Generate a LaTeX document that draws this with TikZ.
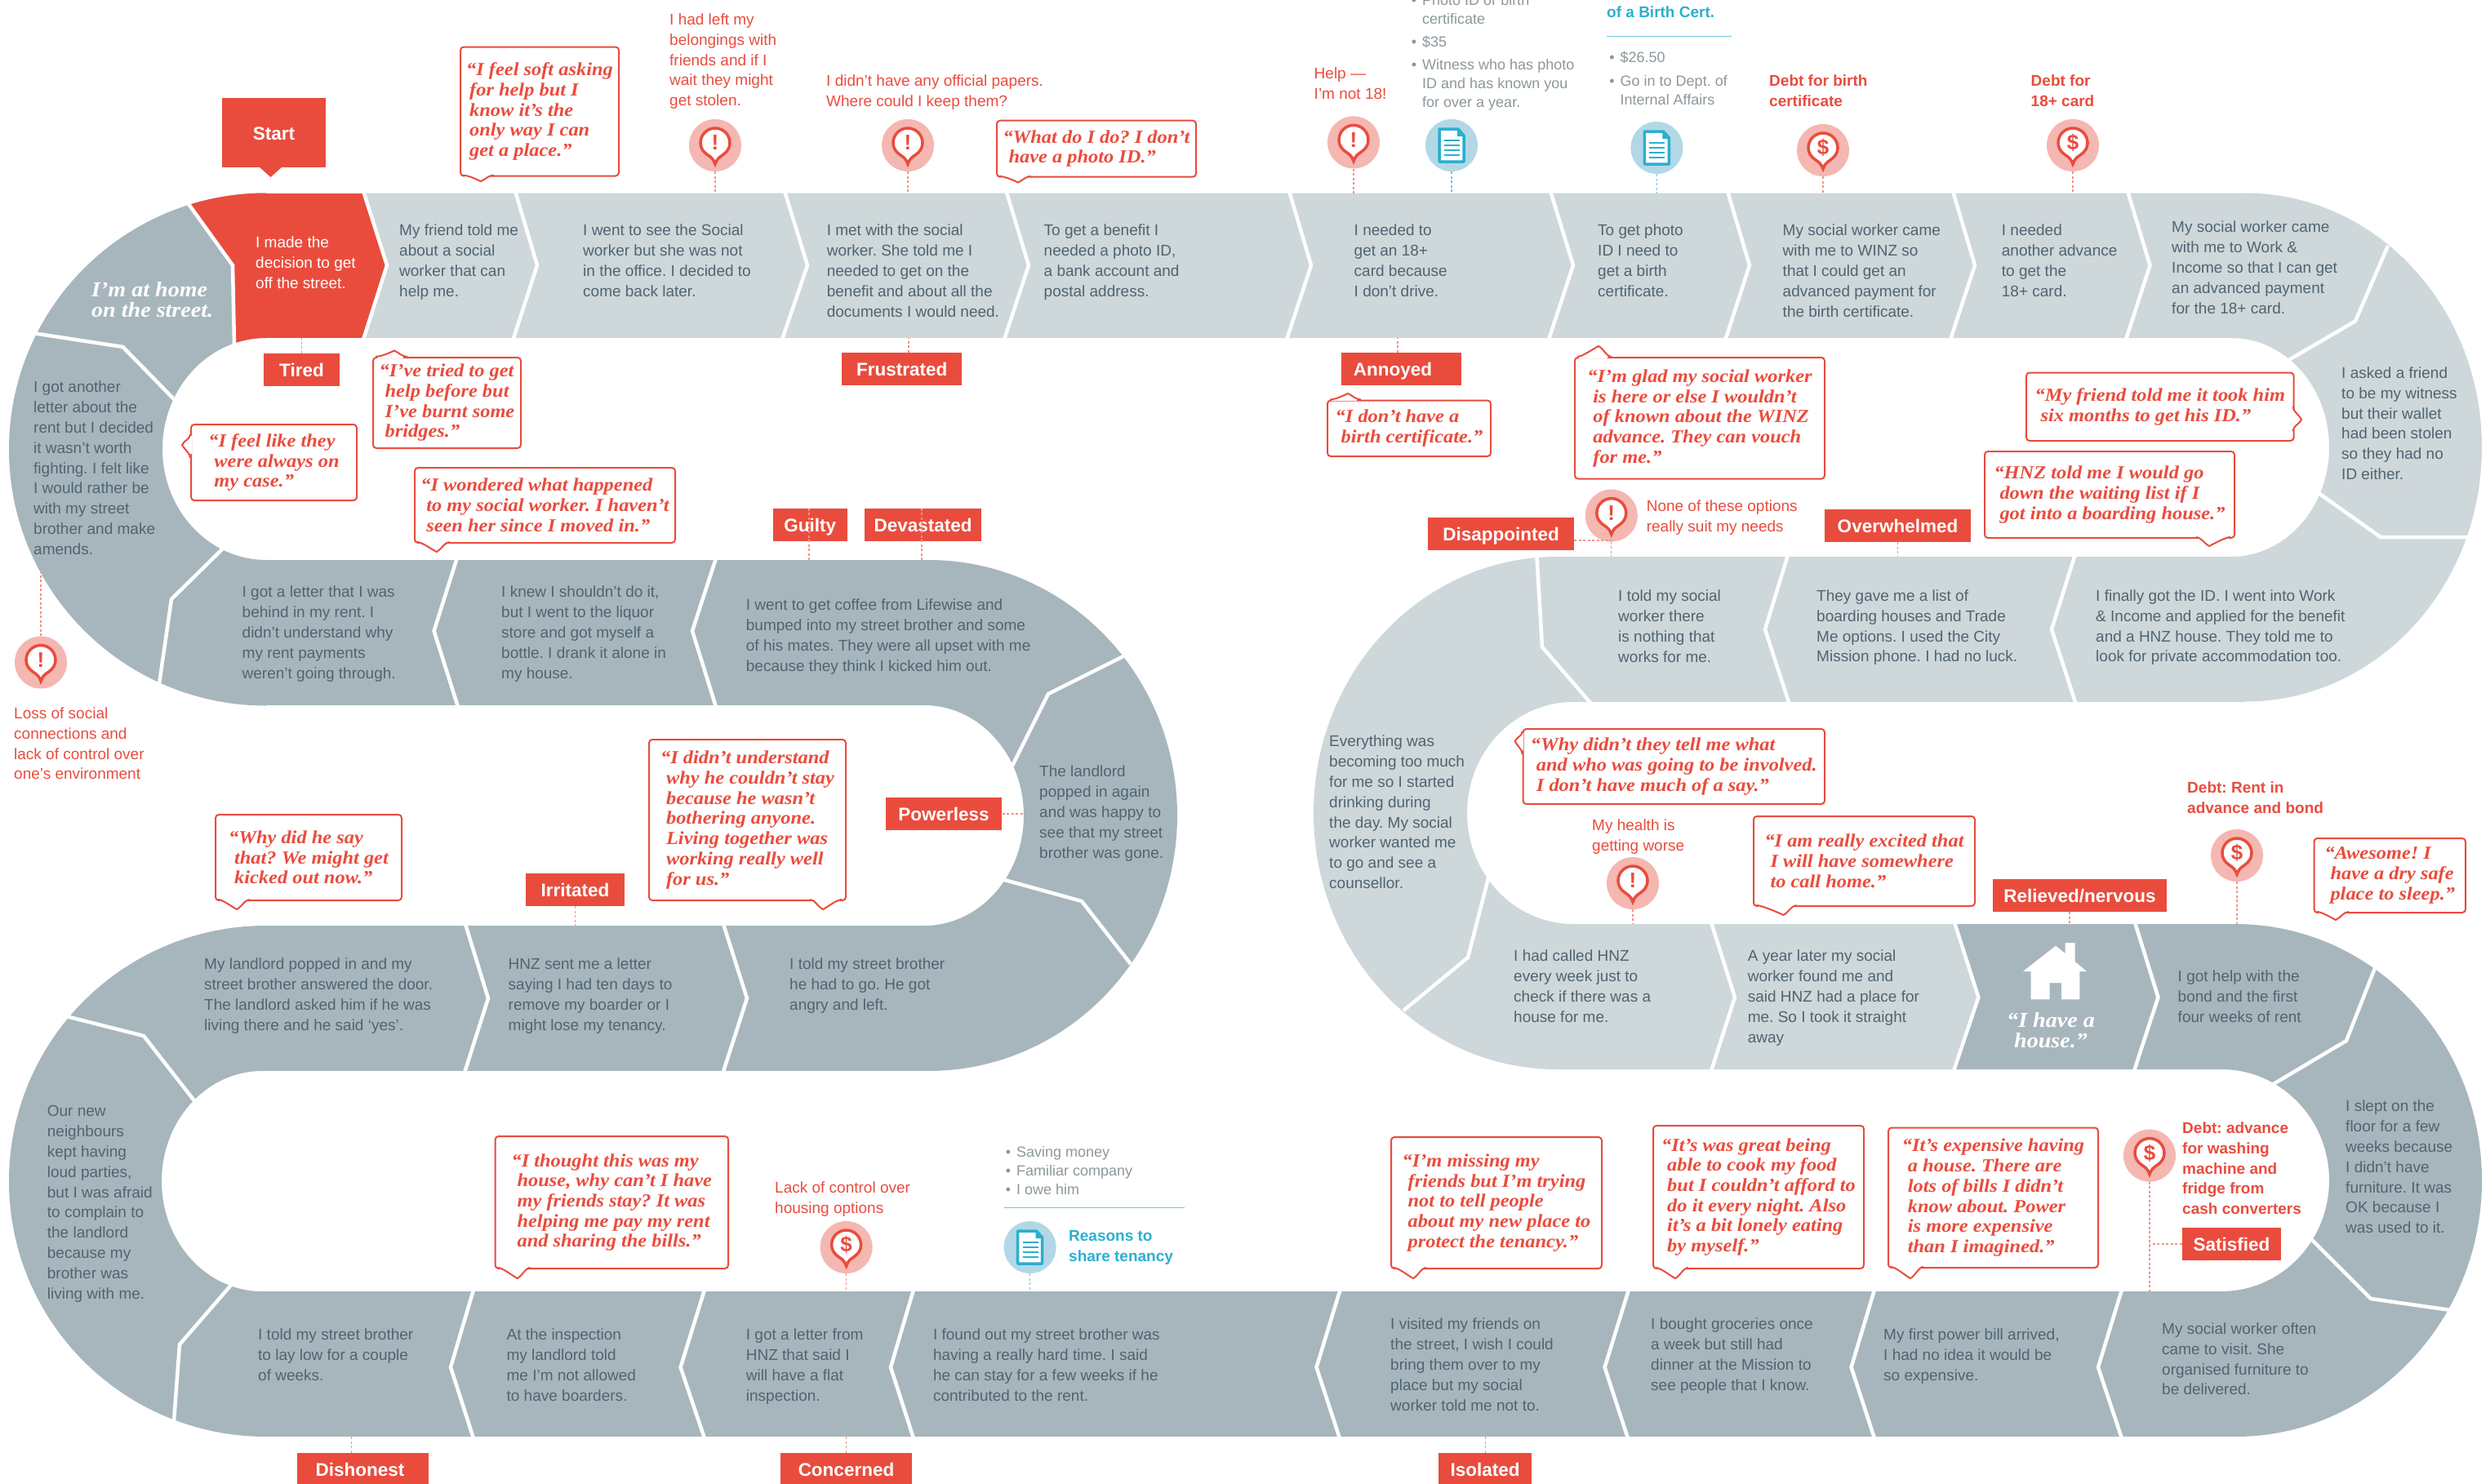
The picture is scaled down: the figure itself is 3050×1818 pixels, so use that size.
\documentclass[tikz,border=0pt]{standalone}
\usepackage{fontspec}
\setmainfont{Liberation Sans}
\newfontfamily\quotefont[FakeStretch=1.08]{Liberation Serif}
\usetikzlibrary{calc}
\definecolor{banddark}{HTML}{A7B6BD}
\definecolor{bandlight}{HTML}{CED7DA}
\definecolor{moodred}{HTML}{E94C3D}
\definecolor{pinpink}{HTML}{F5B7B1}
\definecolor{linkpink}{HTML}{F2938A}
\definecolor{storytext}{HTML}{4F6472}
\definecolor{listgrey}{HTML}{8C979C}
\definecolor{docblue}{HTML}{2BAFD0}
\definecolor{discblue}{HTML}{B2D8E6}
\tikzset{
	gapline/.style={draw=white,line width=4.5pt,miter limit=10},
	story/.style={anchor=north west,inner sep=0pt,align=left,text=storytext,font=\fontsize{19}{24.8}\selectfont},
	redstory/.style={story,text=moodred},
	debtstory/.style={story,text=moodred,font=\bfseries\fontsize{19}{24.8}\selectfont},
	bluestory/.style={story,text=docblue,font=\bfseries\fontsize{19}{24.8}\selectfont},
	greylist/.style={story,text=listgrey,font=\fontsize{18}{23}\selectfont},
	moodtag/.style={fill=moodred,text=white,inner sep=0pt,minimum height=40pt,text height=17pt,text depth=0pt,font=\bfseries\fontsize{22.5}{26}\selectfont},
	bigquote/.style={anchor=north west,inner sep=0pt,align=left,text=white,font=\quotefont\bfseries\itshape\fontsize{26}{25}\selectfont},
	quotebubble/.style={anchor=north west,draw=moodred,line width=2pt,fill=white,rounded corners=4pt,inner sep=0pt,align=left,text=moodred,font=\quotefont\bfseries\itshape\fontsize{22.6}{24.7}\selectfont},
	quoteline/.style={draw=moodred,line width=2pt},
	alertdisc/.style={circle,fill=pinpink,minimum size=64pt,inner sep=0pt},
	docdisc/.style={circle,fill=discblue,minimum size=64pt,inner sep=0pt},
	pinline/.style={draw=moodred,line width=3.5pt,fill=white},
	pinsymbol/.style={inner sep=0pt,text=moodred,font=\bfseries\fontsize{26}{26}\selectfont},
	docline/.style={draw=docblue,line width=3.5pt,fill=white,line join=round},
	redlink/.style={draw=linkpink,line width=1.3pt,dash pattern=on 3pt off 2.5pt},
	bluelink/.style={draw=docblue!70,line width=1.3pt,dash pattern=on 3pt off 2.5pt},
	bluerule/.style={draw=docblue!70,line width=1.5pt}
}
\def\pinmark(#1)#2{\begin{scope}[shift={(#1)}]
	\draw[pinline] (0,23) .. controls (-2,17) and (-5,14.5) .. (-9,12) .. controls (-15,8) and (-18,3) .. (-18,-3) arc (180:360:18) .. controls (18,3) and (15,8) .. (9,12) .. controls (5,14.5) and (2,17) .. (0,23) -- cycle;
	\node[pinsymbol] (#1mark) at (0,-3) {#2};
\end{scope}}
\def\docmark(#1){\begin{scope}[shift={(#1)}]
	\draw[docline] (-15,-20) -- (8,-20) -- (15,-12) -- (15,20) -- (-15,20) -- cycle;
	\fill[docblue] (7,-21) -- (16,-11) -- (7,-11) -- cycle;
	\draw[draw=docblue,line width=2pt] (-9,-6) -- (10,-6) (-9,0) -- (10,0) (-9,6) -- (10,6) (-9,12) -- (10,12);
\end{scope}}
\def\quotetip(#1,#2)[#3]#4#5{\begin{scope}[shift={(#1,#2)},#3]
	\fill[white] ({-#5+2},-1.5) rectangle (11,2);
	\draw[quoteline,fill=white] (-#5,0) .. controls ({-#5+6},0) and (-6,{#4-3}) .. (0,#4) .. controls (6,{#4-3}) and (10,0) .. (16,0);
\end{scope}}

\begin{document}
\frenchspacing
\begin{tikzpicture}[x=1pt,y=-1pt]
	\useasboundingbox (0,0) rectangle (3050,1818);
	
	%%%%% BAND %%%%%
	
	\fill[banddark] (326,236.5) arc (270:90:315 and 314) -- (326,686) arc (90:270:127 and 136) -- cycle;
	\begin{scope}
		\clip (195,200) -- (444,200) -- (444,236.5) -- (473,324) -- (444,414) -- (444,450) -- (287,450) -- (287,421) -- (285,325) -- cycle;
		\fill[moodred] (326,236.5) arc (270:90:315 and 314) -- (326,686) arc (90:270:127 and 136) -- cycle;
		\fill[moodred] (320,236.5) rectangle (480,414);
	\end{scope}
	\fill[bandlight] (444,236.5) -- (473,324) -- (444,414) -- (2750,414) -- (2750,236.5) -- cycle;
	\fill[bandlight] (2750,236.5) arc (-90:90:290 and 311.5) -- (2733,682) arc (90:-90:120 and 134) -- cycle;
	\fill[bandlight] (1900,682) rectangle (2750,859.5);
	\fill[bandlight] (1907,682) arc (270:90:298 and 314) -- (1927,1132) arc (90:270:130 and 136) -- cycle;
	\fill[bandlight] (1907,1132) -- (2394,1132) -- (2423.4,1221) -- (2393,1310) -- (1907,1310) -- cycle;
	
	\fill[banddark] (2394,1132) -- (2423.4,1221) -- (2393,1310) -- (2738,1310) -- (2738,1132) -- cycle;
	\fill[banddark] (2738,1132) arc (-90:90:302 and 314) -- (2721,1582) arc (90:-90:132 and 136) -- cycle;
	\fill[banddark] (316,1582) rectangle (2738,1760);
	\fill[banddark] (326,1134) arc (270:90:315 and 313) -- (321,1582) arc (90:270:123 and 135) -- cycle;
	\fill[banddark] (316,1134) rectangle (1137,1312);
	\fill[banddark] (1137,686) arc (-90:90:305 and 313) -- (1132,1134) arc (90:-90:122 and 135) -- cycle;
	\fill[banddark] (316,686) rectangle (1137,864);
	
	\draw[gapline] (445,234) -- (474,325) -- (445,416);
	\draw[gapline] (631,234) -- (658,325) -- (628.5,416);
	\draw[gapline] (961,234) -- (989,325) -- (958,416);
	\draw[gapline] (1232.5,234) -- (1260,325) -- (1230,416);
	\draw[gapline] (1579,234) -- (1606,325) -- (1576,416);
	\draw[gapline] (1899,234) -- (1927,325) -- (1897,416);
	\draw[gapline] (2116,234) -- (2143,325) -- (2113.5,416);
	\draw[gapline] (2392,234) -- (2419,325) -- (2389,416);
	\draw[gapline] (2606,234) -- (2633.5,325) -- (2604,416);
	
	\draw[gapline] (231,250) -- (285,325) -- (287,423);
	\draw[gapline] (40,408) -- (150.5,425) -- (214,490);
	\draw[gapline] (275,670) -- (210,734) -- (195,838);
	\draw[gapline] (2925,301) -- (2885,393.4) -- (2800,443);
	\draw[gapline] (2840,604) -- (2916,658) -- (3024,658);
	
	\draw[gapline] (2541.6,680) -- (2513,771) -- (2542.6,862);
	\draw[gapline] (2190,680) -- (2162,771) -- (2191.6,862);
	\draw[gapline] (1882.5,682) -- (1889,792.6) -- (1949,862);
	\draw[gapline] (1824,1072) -- (1798,1173) -- (1719,1238);
	\draw[gapline] (2096,1130) -- (2125,1221.7) -- (2096,1312);
	\draw[gapline] (2394,1130) -- (2423.4,1221.7) -- (2393,1312);
	\draw[gapline] (2615,1130) -- (2643.5,1221.7) -- (2614,1312);
	\draw[gapline] (2909,1186) -- (2874,1275) -- (2783,1329);
	\draw[gapline] (2830,1517) -- (2904,1591) -- (3002,1605);
	
	\draw[gapline] (2599,1580) -- (2570,1675) -- (2599,1762);
	\draw[gapline] (2296,1580) -- (2267.6,1675) -- (2296,1762);
	\draw[gapline] (1995,1580) -- (1965.6,1675) -- (1994,1762);
	\draw[gapline] (1641.6,1580) -- (1612.5,1675) -- (1641,1762);
	\draw[gapline] (1119,1580) -- (1091,1675) -- (1119,1762);
	\draw[gapline] (863,1580) -- (833.6,1675) -- (863,1762);
	\draw[gapline] (580,1580) -- (552,1675) -- (580,1762);
	\draw[gapline] (285,1572) -- (220,1647) -- (213,1741);
	\draw[gapline] (81,1245) -- (176,1269) -- (240,1351);
	\draw[gapline] (570,1132) -- (598,1223) -- (569,1314);
	\draw[gapline] (886,1132) -- (915,1223) -- (885.6,1314);
	\draw[gapline] (1376,804) -- (1284,850) -- (1240,938);
	\draw[gapline] (1227,1077) -- (1325,1104) -- (1385,1181);
	\draw[gapline] (877,684) -- (848,773) -- (877,866);
	\draw[gapline] (559.7,684) -- (531.6,773) -- (561,866);
	
	%%%%% HOUSE %%%%%
	
	\fill[white] (2518,1158.7) -- (2529.7,1168) -- (2529.7,1155) -- (2541.6,1155) -- (2541.6,1178) -- (2556,1190) -- (2547.4,1190) -- (2547.4,1224.4) -- (2525,1224.4) -- (2525,1204) -- (2510.5,1204) -- (2510.5,1224.4) -- (2487.6,1224.4) -- (2487.6,1190) -- (2478,1190) -- cycle;
	\node[bigquote,align=center,anchor=north] (havehouse) at (2512,1240) {“I have a\\house.”};
	
	%%%%% STORY %%%%%
	
	\node[bigquote] (athome) at (112,345) {I’m at home\\on the street.};
	\node[story,text=white] (decision) at (313,290) {I made the\\decision to get\\off the street.};
	\node[story] (friendtold) at (489,275) {My friend told me\\about a social\\worker that can\\help me.};
	\node[story] (wenttosee) at (714,275) {I went to see the Social\\worker but she was not\\in the office. I decided to\\come back later.};
	\node[story] (metworker) at (1012.6,275) {I met with the social\\worker. She told me I\\needed to get on the\\benefit and about all the\\documents I would need.};
	\node[story] (getbenefit) at (1278.5,275) {To get a benefit I\\needed a photo ID,\\a bank account and\\postal address.};
	\node[story] (getcard) at (1658.5,275) {I needed to\\get an 18+\\card because\\I don’t drive.};
	\node[story] (getphoto) at (1957,275) {To get photo\\ID I need to\\get a birth\\certificate.};
	\node[story] (toWINZ) at (2183.5,275) {My social worker came\\with me to WINZ so\\that I could get an\\advanced payment for\\the birth certificate.};
	\node[story] (advance) at (2451.7,275) {I needed\\another advance\\to get the\\18+ card.};
	\node[story] (toWork) at (2660,271) {My social worker came\\with me to Work \&\\Income so that I can get\\an advanced payment\\for the 18+ card.};
	\node[story] (witness) at (2868,449.6) {I asked a friend\\to be my witness\\but their wallet\\had been stolen\\so they had no\\ID either.};
	\node[story] (amends) at (41,467) {I got another\\letter about the\\rent but I decided\\it wasn’t worth\\fighting. I felt like\\I would rather be\\with my street\\brother and make\\amends.};
	
	\node[story] (behind) at (296.5,718) {I got a letter that I was\\behind in my rent. I\\didn’t understand why\\my rent payments\\weren’t going through.};
	\node[story] (liquor) at (614,718) {I knew I shouldn’t do it,\\but I went to the liquor\\store and got myself a\\bottle. I drank it alone in\\my house.};
	\node[story] (coffee) at (913.7,734) {I went to get coffee from Lifewise and\\bumped into my street brother and some\\of his mates. They were all upset with me\\because they think I kicked him out.};
	\node[story] (poppedagain) at (1273,938) {The landlord\\popped in again\\and was happy to\\see that my street\\brother was gone.};
	
	\node[story] (popped) at (250,1174) {My landlord popped in and my\\street brother answered the door.\\The landlord asked him if he was\\living there and he said ‘yes’.};
	\node[story] (tendays) at (622.5,1174) {HNZ sent me a letter\\saying I had ten days to\\remove my boarder or I\\might lose my tenancy.};
	\node[story] (hadtogo) at (967,1174) {I told my street brother\\he had to go. He got\\angry and left.};
	\node[story] (parties) at (57.7,1354.5) {Our new\\neighbours\\kept having\\loud parties,\\but I was afraid\\to complain to\\the landlord\\because my\\brother was\\living with me.};
	
	\node[story] (laylow) at (316,1627.7) {I told my street brother\\to lay low for a couple\\of weeks.};
	\node[story] (inspection) at (620.4,1627.7) {At the inspection\\my landlord told\\me I’m not allowed\\to have boarders.};
	\node[story] (flatletter) at (913.7,1627.7) {I got a letter from\\HNZ that said I\\will have a flat\\inspection.};
	\node[story] (hardtime) at (1142.8,1627.7) {I found out my street brother was\\having a really hard time. I said\\he can stay for a few weeks if he\\contributed to the rent.};
	\node[story] (visited) at (1703,1615) {I visited my friends on\\the street, I wish I could\\bring them over to my\\place but my social\\worker told me not to.};
	\node[story] (groceries) at (2022,1615) {I bought groceries once\\a week but still had\\dinner at the Mission to\\see people that I know.};
	\node[story] (powerbill) at (2307,1627.7) {My first power bill arrived,\\I had no idea it would be\\so expensive.};
	\node[story] (visit) at (2648,1620.6) {My social worker often\\came to visit. She\\organised furniture to\\be delivered.};
	\node[story] (floor) at (2873,1348) {I slept on the\\floor for a few\\weeks because\\I didn’t have\\furniture. It was\\OK because I\\was used to it.};
	
	\node[story] (bond) at (2667.5,1189) {I got help with the\\bond and the first\\four weeks of rent};
	\node[story] (yearlater) at (2140.6,1164) {A year later my social\\worker found me and\\said HNZ had a place for\\me. So I took it straight\\away};
	\node[story] (calledHNZ) at (1854,1164) {I had called HNZ\\every week just to\\check if there was a\\house for me.};
	\node[story] (toomuch) at (1628,901) {Everything was\\becoming too much\\for me so I started\\drinking during\\the day. My social\\worker wanted me\\to go and see a\\counsellor.};
	\node[story] (nothing) at (1982,723) {I told my social\\worker there\\is nothing that\\works for me.};
	\node[story] (boarding) at (2225,722.6) {They gave me a list of\\boarding houses and Trade\\Me options. I used the City\\Mission phone. I had no luck.};
	\node[story] (finally) at (2567,722.6) {I finally got the ID. I went into Work\\\& Income and applied for the benefit\\and a HNZ house. They told me to\\look for private accommodation too.};
	
	%%%%% NOTES %%%%%
	
	\node[redstory] (belongingsnote) at (820,16.6) {I had left my\\belongings with\\friends and if I\\wait they might\\get stolen.};
	\node[redstory] (papersnote) at (1012,92) {I didn’t have any official papers.\\Where could I keep them?};
	\node[redstory] (helpnote) at (1609.5,83) {Help —\\I’m not 18!};
	\node[debtstory] (birthnote) at (2167,92) {Debt for birth\\certificate};
	\node[debtstory] (cardnote) at (2487.5,92) {Debt for\\18+ card};
	\node[redstory] (nonenote) at (2016.6,612.6) {None of these options\\really suit my needs};
	\node[redstory] (healthnote) at (1950,1004) {My health is\\getting worse};
	\node[debtstory] (rentnote) at (2679,957.5) {Debt: Rent in\\advance and bond};
	\node[debtstory] (washingnote) at (2673,1374.6) {Debt: advance\\for washing\\machine and\\fridge from\\cash converters};
	\node[redstory] (lossnote) at (17,866.5) {Loss of social\\connections and\\lack of control over\\one’s environment};
	\node[redstory] (controlnote) at (949,1447.5) {Lack of control over\\housing options};
	
	\node[greylist] (photolist) at (1742,-7) {\llap{•\hspace{7pt}}Photo ID or birth\\certificate};
	\node[greylist] (costlist) at (1742,43.5) {\llap{•\hspace{7pt}}\$35};
	\node[greylist] (witnesslist) at (1742,72) {\llap{•\hspace{7pt}}Witness who has photo\\ID and has known you\\for over a year.};
	\node[bluestory] (birthcert) at (1968,8) {of a Birth Cert.};
	\draw[bluerule] (1968,44.7) -- (2120.7,44.7);
	\node[greylist] (feelist) at (1984.5,63) {\llap{•\hspace{7pt}}\$26.50};
	\node[greylist] (deptlist) at (1984.5,92) {\llap{•\hspace{7pt}}Go in to Dept. of\\Internal Affairs};
	\node[greylist] (reasonlist) at (1245,1404) {\llap{•\hspace{7pt}}Saving money\\\llap{•\hspace{7pt}}Familiar company\\\llap{•\hspace{7pt}}I owe him};
	\draw[bluerule] (1229.5,1479.5) -- (1451,1479.5);
	\node[bluestory] (reasonnote) at (1309,1507.5) {Reasons to\\share tenancy};
	
	%%%%% TAGS %%%%%
	
	\node[moodtag,minimum width=127pt,minimum height=85pt] (start) at (335.5,162.5) {Start};
	\fill[moodred] (317,204) -- (331.5,217) -- (346,204) -- cycle;
	\node[moodtag,minimum width=93pt] (tired) at (369.5,453) {Tired};
	\node[moodtag,minimum width=147.5pt] (frustrated) at (1104.7,452) {Frustrated};
	\node[moodtag,minimum width=147pt] (annoyed) at (1716,452) {Annoyed\rule{20pt}{0pt}};
	\node[moodtag,minimum width=90.6pt] (guilty) at (992.3,643) {Guilty};
	\node[moodtag,minimum width=143.4pt] (devastated) at (1130.7,643) {Devastated};
	\node[moodtag,minimum width=142.8pt] (powerless) at (1156,997) {Powerless};
	\node[moodtag,minimum width=121pt] (irritated) at (704.5,1090) {Irritated};
	\node[moodtag,minimum width=161pt] (dishonest) at (444.5,1800) {Dishonest\rule{7pt}{0pt}};
	\node[moodtag,minimum width=161pt] (concerned) at (1036.5,1800) {Concerned};
	\node[moodtag,minimum width=113.5pt] (isolated) at (1819.2,1800) {Isolated};
	\node[moodtag,minimum width=179pt] (disappointed) at (1838.5,654) {Disappointed};
	\node[moodtag,minimum width=179pt] (overwhelmed) at (2324.5,644) {Overwhelmed};
	\node[moodtag,minimum width=213pt] (relieved) at (2547.5,1097) {Relieved/nervous};
	\node[moodtag,minimum width=121pt] (satisfied) at (2733.5,1524) {Satisfied};
	
	%%%%% PINS %%%%%
	
	\node[alertdisc] (belongings) at (876,178) {};
	\pinmark(belongings){!};
	\node[alertdisc] (papers) at (1112,178) {};
	\pinmark(papers){!};
	\node[alertdisc] (helppin) at (1658,174.4) {};
	\pinmark(helppin){!};
	\node[docdisc] (witnessdoc) at (1778,178) {};
	\docmark(witnessdoc);
	\node[docdisc] (certdoc) at (2029.4,181) {};
	\docmark(certdoc);
	\node[alertdisc] (birthpin) at (2233,184) {};
	\pinmark(birthpin){\$};
	\node[alertdisc] (cardpin) at (2539,178) {};
	\pinmark(cardpin){\$};
	\node[alertdisc] (losspin) at (50,811.5) {};
	\pinmark(losspin){!};
	\node[alertdisc] (nonepin) at (1973.8,631.6) {};
	\pinmark(nonepin){!};
	\node[alertdisc] (healthpin) at (2000,1082) {};
	\pinmark(healthpin){!};
	\node[alertdisc] (rentpin) at (2740,1048) {};
	\pinmark(rentpin){\$};
	\node[alertdisc] (controlpin) at (1036.6,1528) {};
	\pinmark(controlpin){\$};
	\node[docdisc] (reasondoc) at (1261.6,1528) {};
	\docmark(reasondoc);
	\node[alertdisc] (washingpin) at (2633,1415.6) {};
	\pinmark(washingpin){\$};
	
	%%%%% LINKS %%%%%
	
	\coordinate (tiredband) at (369.5,414);
	\coordinate (frustratedband) at (1113,414);
	\coordinate (annoyedband) at (1712,414);
	\coordinate (guiltyband) at (991,686);
	\coordinate (devastatedband) at (1129,686);
	\coordinate (powerlessband) at (1257,997);
	\coordinate (irritatedband) at (704.5,1134);
	\coordinate (dishonestband) at (430.6,1760);
	\coordinate (concernedband) at (1036.5,1760);
	\coordinate (isolatedband) at (1819.2,1760);
	\coordinate (overwhelmedband) at (2324.5,682);
	\coordinate (relievedband) at (2535,1132);
	\coordinate (disappointedjoin) at (1973.8,662);
	\coordinate (satisfiedjoin) at (2633,1524);
	\draw[redlink] (tired.north) -- (tiredband);
	\draw[redlink] (frustrated.north -| frustratedband) -- (frustratedband);
	\draw[redlink] (annoyed.north -| annoyedband) -- (annoyedband);
	\draw[redlink] (guilty.north -| guiltyband) -- (guiltyband);
	\draw[redlink] (devastated.north -| devastatedband) -- (devastatedband);
	\draw[redlink] (powerless.east) -- (powerlessband);
	\draw[redlink] (irritated.south) -- (irritatedband);
	\draw[redlink] (dishonest.north -| dishonestband) -- (dishonestband);
	\draw[redlink] (concerned.north) -- (concernedband);
	\draw[redlink] (isolated.north) -- (isolatedband);
	\draw[redlink] (overwhelmed.south) -- (overwhelmedband);
	\draw[redlink] (relieved.south -| relievedband) -- (relievedband);
	\draw[redlink] (disappointedjoin -| disappointed.east) -- (disappointedjoin);
	\draw[redlink] (satisfied.west) -- (satisfiedjoin);
	
	\coordinate (belongingsband) at (876,236.5);
	\coordinate (papersband) at (1112,236.5);
	\coordinate (helpband) at (1658,236.5);
	\coordinate (witnessband) at (1778,236.5);
	\coordinate (certband) at (2029.4,236.5);
	\coordinate (birthband) at (2233,236.5);
	\coordinate (cardband) at (2539,236.5);
	\coordinate (lossband) at (50,701);
	\coordinate (noneband) at (1973.8,682);
	\coordinate (healthband) at (2000,1132);
	\coordinate (rentband) at (2740,1132);
	\coordinate (controlband) at (1036.6,1582);
	\coordinate (reasonband) at (1261.6,1582);
	\coordinate (washingband) at (2633,1582);
	\draw[redlink] (belongings.south) -- (belongingsband);
	\draw[redlink] (papers.south) -- (papersband);
	\draw[redlink] (helppin.south) -- (helpband);
	\draw[bluelink] (witnessdoc.south) -- (witnessband);
	\draw[bluelink] (certdoc.south) -- (certband);
	\draw[redlink] (birthpin.south) -- (birthband);
	\draw[redlink] (cardpin.south) -- (cardband);
	\draw[redlink] (losspin.north) -- (lossband);
	\draw[redlink] (nonepin.south) -- (noneband);
	\draw[redlink] (healthpin.south) -- (healthband);
	\draw[redlink] (rentpin.south) -- (rentband);
	\draw[redlink] (controlpin.south) -- (controlband);
	\draw[bluelink] (reasondoc.south) -- (reasonband);
	\draw[redlink] (washingpin.south) -- (washingband);
	
	%%%%% QUOTES %%%%%
	
	\node[quotebubble,minimum width=194pt,minimum height=158pt] (softasking) at (563,56.5) {“I feel soft asking\\\hspace*{4pt}for help but I\\\hspace*{4pt}know it’s the\\\hspace*{4pt}only way I can\\\hspace*{4pt}get a place.”};
	\quotetip(589,214.7)[]{7.5}{22}
	\node[quotebubble,minimum width=244pt,minimum height=69pt] (whatdo) at (1220,146.7) {“What do I do? I don’t\\\hspace*{7pt}have a photo ID.”};
	\quotetip(1247,216)[]{7.5}{23}
	\node[quotebubble,minimum width=181pt,minimum height=111pt] (triedhelp) at (456,437) {“I’ve tried to get\\\hspace*{7pt}help before but\\\hspace*{7pt}I’ve burnt some\\\hspace*{7pt}bridges.”};
	\quotetip(483,437)[yscale=-1]{7.5}{23}
	\node[quotebubble,minimum width=203pt,minimum height=93pt] (onmycase) at (233,519) {“I feel like they\\\hspace*{7pt}were always on\\\hspace*{7pt}my case.”};
	\quotetip(233,545)[rotate=-90]{10}{13}
	\node[quotebubble,minimum width=319pt,minimum height=92pt] (wondered) at (507,572) {“I wondered what happened\\\hspace*{7pt}to my social worker. I haven’t\\\hspace*{7pt}seen her since I moved in.”};
	\quotetip(534.7,664)[]{12}{24}
	\node[quotebubble,minimum width=200pt,minimum height=68.5pt] (nobirth) at (1625,489.5) {“I don’t have a\\\hspace*{7pt}birth certificate.”};
	\quotetip(1651,489.5)[yscale=-1]{7.5}{22}
	\node[quotebubble,minimum width=306pt,minimum height=148.6pt] (gladworker) at (1928,437) {“I’m glad my social worker\\\hspace*{7pt}is here or else I wouldn’t\\\hspace*{7pt}of known about the WINZ\\\hspace*{7pt}advance. They can vouch\\\hspace*{7pt}for me.”};
	\quotetip(1958,437)[yscale=-1]{13}{26}
	\node[quotebubble,minimum width=327.6pt,minimum height=83.5pt] (sixmonths) at (2481,455.5) {“My friend told me it took him\\\hspace*{7pt}six months to get his ID.”};
	\quotetip(2808.6,514)[rotate=90]{10.5}{14}
	\node[quotebubble,minimum width=306pt,minimum height=106pt] (waitinglist) at (2430,552) {“HNZ told me I would go\\\hspace*{7pt}down the waiting list if I\\\hspace*{7pt}got into a boarding house.”};
	\quotetip(2706,658)[xscale=-1]{11}{26}
	\node[quotebubble,minimum width=241pt,minimum height=197pt] (understand) at (794,905) {“I didn’t understand\\\hspace*{7pt}why he couldn’t stay\\\hspace*{7pt}because he wasn’t\\\hspace*{7pt}bothering anyone.\\\hspace*{7pt}Living together was\\\hspace*{7pt}working really well\\\hspace*{7pt}for us.”};
	\quotetip(1008,1102)[xscale=-1]{12}{23}
	\node[quotebubble,minimum width=228pt,minimum height=105pt] (kickedout) at (263,997) {“Why did he say\\\hspace*{7pt}that? We might get\\\hspace*{7pt}kicked out now.”};
	\quotetip(290,1102)[]{12}{23}
	\node[quotebubble,minimum width=369.4pt,minimum height=92pt] (tellme) at (1864.6,892) {“Why didn’t they tell me what\\\hspace*{7pt}and who was going to be involved.\\\hspace*{7pt}I don’t have much of a say.”};
	\quotetip(1864.6,908)[rotate=-90]{9}{12}
	\node[quotebubble,minimum width=271pt,minimum height=110pt] (excited) at (2147,999) {“I am really excited that\\\hspace*{7pt}I will have somewhere\\\hspace*{7pt}to call home.”};
	\quotetip(2184.5,1109)[]{12}{33}
	\node[quotebubble,minimum width=185.5pt,minimum height=91pt] (awesome) at (2833.5,1026) {“Awesome! I\\\hspace*{7pt}have a dry safe\\\hspace*{7pt}place to sleep.”};
	\quotetip(2861,1117)[]{10}{23}
	\node[quotebubble,minimum width=285.4pt,minimum height=162pt] (myhouse) at (605.6,1391) {“I thought this was my\\\hspace*{7pt}house, why can’t I have\\\hspace*{7pt}my friends stay? It was\\\hspace*{7pt}helping me pay my rent\\\hspace*{7pt}and sharing the bills.”};
	\quotetip(633.7,1553)[]{13}{24}
	\node[quotebubble,minimum width=258pt,minimum height=161pt] (missing) at (1703,1392) {“I’m missing my\\\hspace*{7pt}friends but I’m trying\\\hspace*{7pt}not to tell people\\\hspace*{7pt}about my new place to\\\hspace*{7pt}protect the tenancy.”};
	\quotetip(1731,1553)[]{13}{24}
	\node[quotebubble,minimum width=258pt,minimum height=175pt] (greatcook) at (2024,1378) {“It’s was great being\\\hspace*{7pt}able to cook my food\\\hspace*{7pt}but I couldn’t afford to\\\hspace*{7pt}do it every night. Also\\\hspace*{7pt}it’s a bit lonely eating\\\hspace*{7pt}by myself.”};
	\quotetip(2052,1553)[]{13}{24}
	\node[quotebubble,minimum width=257pt,minimum height=171.5pt] (expensive) at (2312,1380.5) {“It’s expensive having\\\hspace*{7pt}a house. There are\\\hspace*{7pt}lots of bills I didn’t\\\hspace*{7pt}know about. Power\\\hspace*{7pt}is more expensive\\\hspace*{7pt}than I imagined.”};
	\quotetip(2340,1552)[]{14}{24}
\end{tikzpicture}
\end{document}
